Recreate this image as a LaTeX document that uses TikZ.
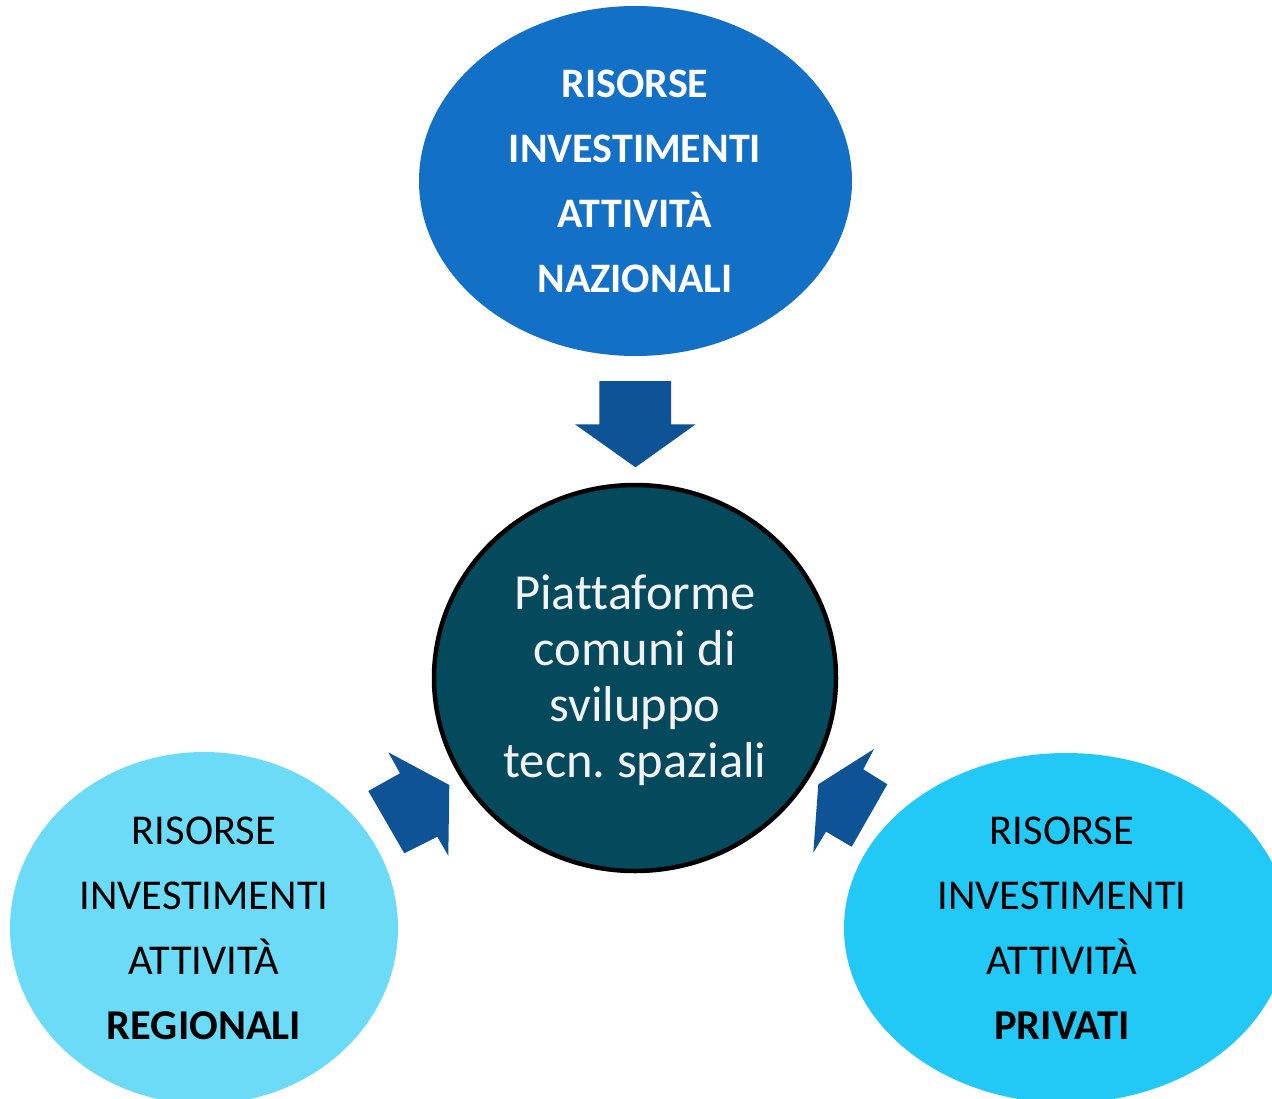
\documentclass[tikz,border=0pt]{standalone}
\usepackage{fontspec}
\setmainfont{Carlito}[Ligatures=NoCommon]
\usetikzlibrary{shapes.geometric}
\definecolor{natblue}{RGB}{18,112,199}
\definecolor{regblue}{RGB}{108,219,248}
\definecolor{privblue}{RGB}{34,201,247}
\definecolor{coreteal}{RGB}{4,74,92}
\definecolor{arrowblue}{RGB}{14,83,149}
\definecolor{coretext}{RGB}{242,242,242}
\tikzset{
  blob/.style={ellipse, inner sep=0pt, draw=none},
  lbl/.style={inner sep=0pt, align=center, font=\fontsize{42.5}{65}\selectfont},
  corelbl/.style={inner sep=0pt, align=center, text=coretext, font=\fontsize{50.5}{56}\selectfont},
  blockarrow/.style={fill=arrowblue, draw=none}
}
\frenchspacing
\begin{document}
\begin{tikzpicture}[x=1pt,y=-1pt]
\useasboundingbox (0,0) rectangle (1272,1098);
\clip (0,0) rectangle (1272,1098);
\fill[white] (0,0) rectangle (1272,1098);

% outer ellipses
\node[blob, fill=natblue, minimum width=433pt, minimum height=350pt] (nat) at (635.5,181) {};
\node[blob, fill=regblue, minimum width=388pt, minimum height=352pt] (reg) at (204,928) {};
\node[blob, fill=privblue, minimum width=444pt, minimum height=350pt] (priv) at (1066,928) {};

% central circle
\node[blob, draw=black, line width=4.5pt, fill=coreteal, minimum width=402pt, minimum height=386pt] (core) at (635,678) {};

% labels
\node[lbl, text=white, font=\fontsize{42}{65}\selectfont\bfseries] (natT) at (635,181) {RISORSE\\INVESTIMENTI\\ATTIVITÀ\\NAZIONALI};
\node[lbl, text=black] (regT) at (204,928) {RISORSE\\INVESTIMENTI\\ATTIVITÀ\\\textbf{REGIONALI}};
\node[lbl, text=black] (privT) at (1062,928) {RISORSE\\INVESTIMENTI\\ATTIVITÀ\\\textbf{PRIVATI}};
\node[corelbl] (coreT) at (635,680) {Piattaforme\\comuni di\\sviluppo\\tecn. spaziali};

% block arrows
\coordinate (topTip) at (635.5,467.3);
\fill[blockarrow] (599.3,381) -- (671,381) -- (671,424.3) -- (695.7,424.3) -- (topTip) -- (575,424.3) -- (599.3,424.3) -- cycle;
\fill[blockarrow] (388.3,752.3) -- (449.3,785) -- (448.3,855.7) -- (437.3,836.7) -- (404.3,853.3) -- (368.3,791) -- (400,773.3) -- cycle;
\fill[blockarrow] (874,749) -- (863.3,769.3) -- (887.3,784.3) -- (851.7,846.7) -- (826,831.7) -- (813.3,852.7) -- (818.3,784.3) -- cycle;
\end{tikzpicture}
\end{document}
